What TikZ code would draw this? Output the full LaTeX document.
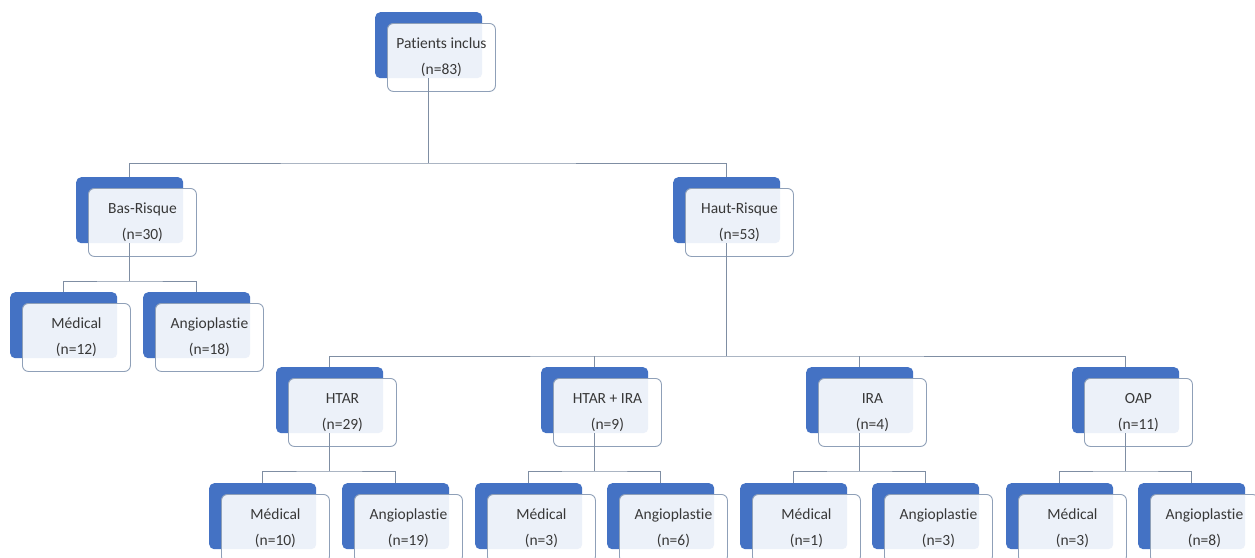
\documentclass[tikz,border=0pt]{standalone}
\usepackage{fontspec}
\setmainfont[Ligatures=NoCommon]{Carlito}
\definecolor{boxblue}{HTML}{4472C4}
\definecolor{edgegray}{HTML}{8FA0B8}
\definecolor{linegray}{HTML}{7F8EA3}
\definecolor{txtgray}{HTML}{383838}
\tikzset{
  backbox/.style={draw=none, fill=boxblue, rounded corners=5pt, minimum width=107pt, minimum height=66pt, inner sep=0pt, anchor=north west},
  frontbox/.style={draw=edgegray, line width=0.9pt, fill=white, fill opacity=0.9, text opacity=1, rounded corners=6pt, minimum width=108pt, minimum height=68pt, inner sep=0pt, anchor=north west, align=center, text=txtgray, font=\fontsize{15.5}{26}\selectfont},
  conn/.style={draw=linegray, line width=0.9pt}
}
\newcommand\pairbox[4]{%
  \node[backbox] (#1b) at (#2,#3) {};
  \node[frontbox] (#1) at ({#2+12},{#3+11}) {#4};
}
\begin{document}
\begin{tikzpicture}[x=1pt,y=-1pt]
\useasboundingbox (0,0) rectangle (1255,557);
\clip (0,0) rectangle (1255,557);
\fill[white] (0,0) rectangle (1255,557);
\coordinate (y1) at (0,163);
\coordinate (y2) at (0,281);
\coordinate (y3) at (0,356);
\coordinate (y4) at (0,471);
\pairbox{p}{375}{12}{Patients inclus\\(n=83)}
\pairbox{bas}{76}{177}{Bas-Risque\\(n=30)}
\pairbox{haut}{673}{177}{Haut-Risque\\(n=53)}
\pairbox{bm}{10}{292}{Médical\\(n=12)}
\pairbox{ba}{143}{292}{Angioplastie\\(n=18)}
\pairbox{htar}{276}{367}{HTAR\\(n=29)}
\pairbox{hi}{541}{367}{HTAR + IRA\\(n=9)}
\pairbox{ira}{806}{367}{IRA\\(n=4)}
\pairbox{oap}{1072}{367}{OAP\\(n=11)}
\pairbox{hm}{209}{483}{Médical\\(n=10)}
\pairbox{ha}{342}{483}{Angioplastie\\(n=19)}
\pairbox{him}{475}{483}{Médical\\(n=3)}
\pairbox{hia}{607}{483}{Angioplastie\\(n=6)}
\pairbox{im}{740}{483}{Médical\\(n=1)}
\pairbox{ia}{872}{483}{Angioplastie\\(n=3)}
\pairbox{om}{1006}{483}{Médical\\(n=3)}
\pairbox{oa}{1138}{483}{Angioplastie\\(n=8)}
% connectors
\draw[conn] (pb.south) -- (pb.south |- y1);
\draw[conn] (basb.north) |- (y1 -| pb.south) -| (hautb.north);
\draw[conn] (basb.south) -- (basb.south |- y2);
\draw[conn] (bmb.north) |- (y2 -| basb.south) -| (bab.north);
\draw[conn] (hautb.south) -- (hautb.south |- y3);
\draw[conn] (htarb.north) |- (y3 -| hautb.south) -| (oapb.north);
\draw[conn] (hib.north) -- (hib.north |- y3);
\draw[conn] (irab.north) -- (irab.north |- y3);
\draw[conn] (htarb.south) -- (htarb.south |- y4);
\draw[conn] (hmb.north) |- (y4 -| htarb.south) -| (hab.north);
\draw[conn] (hib.south) -- (hib.south |- y4);
\draw[conn] (himb.north) |- (y4 -| hib.south) -| (hiab.north);
\draw[conn] (irab.south) -- (irab.south |- y4);
\draw[conn] (imb.north) |- (y4 -| irab.south) -| (iab.north);
\draw[conn] (oapb.south) -- (oapb.south |- y4);
\draw[conn] (omb.north) |- (y4 -| oapb.south) -| (oab.north);
\end{tikzpicture}
\end{document}
